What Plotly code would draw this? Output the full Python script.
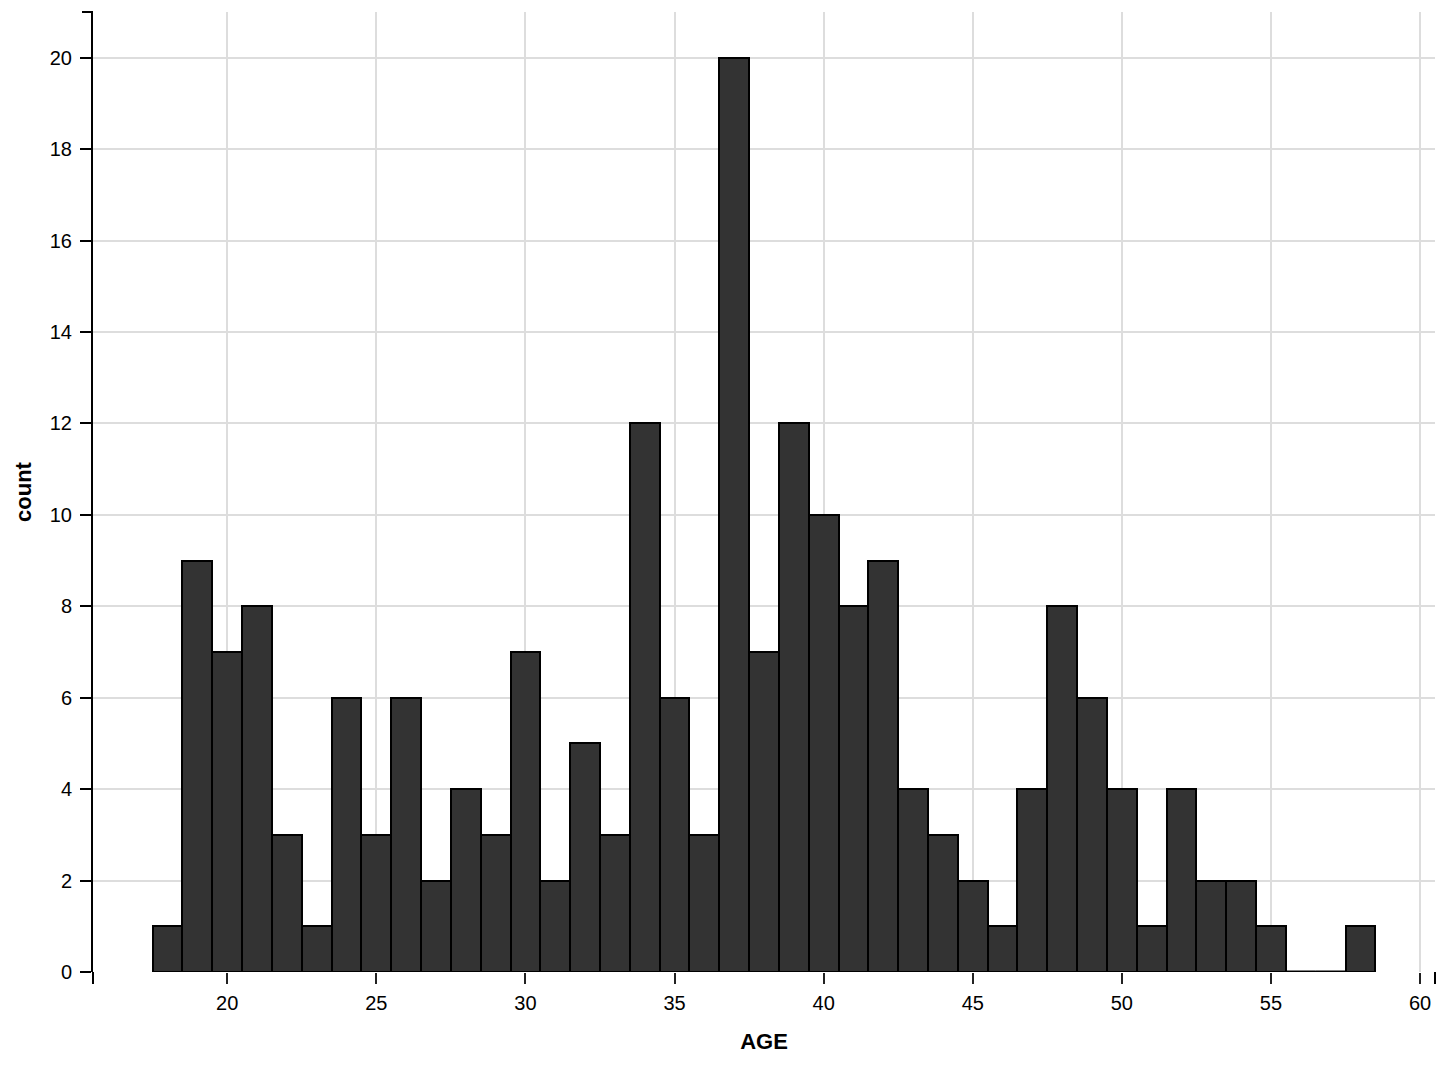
import plotly.graph_objects as go

# Histogram of AGE, one-year bins centred on whole years
ages = list(range(18, 59))
counts = [1, 9, 7, 8, 3, 1, 6, 3, 6, 2,
          4, 3, 7, 2, 5, 3, 12, 6, 3, 20,
          7, 12, 10, 8, 9, 4, 3, 2, 1, 4,
          8, 6, 4, 1, 4, 2, 2, 1, 0, 0,
          1]
x_ticks = [20, 25, 30, 35, 40, 45, 50, 55, 60]
y_ticks = [0, 2, 4, 6, 8, 10, 12, 14, 16, 18, 20]

FONT = "Liberation Sans, Helvetica, Arial, sans-serif"

fig = go.Figure()

fig.add_trace(go.Bar(
    x=ages,
    y=counts,
    width=1,
    marker=dict(color="#333333", line=dict(color="#000000", width=2)),
    showlegend=False,
))

# empty bins still show their outline along the baseline
for a, c in zip(ages, counts):
    if c == 0:
        fig.add_trace(go.Scatter(
            x=[a - 0.5, a + 0.5], y=[0, 0], mode="lines",
            line=dict(color="#000000", width=3),
            showlegend=False, hoverinfo="skip",
        ))

# page body adds an 8px margin, so the figure is a bit smaller than the window
fig.update_layout(
    width=1440,
    height=1060,
    plot_bgcolor="white",
    paper_bgcolor="white",
    margin=dict(l=85, r=13, t=4, b=96),
    font=dict(family=FONT, size=20, color="#000000"),
    bargap=0,
    xaxis=dict(
        range=[15.5, 60.5],
        tickvals=x_ticks,
        ticks="outside",
        ticklen=11,
        tickcolor="#222222",
        tickwidth=1.5,
        ticklabelstandoff=2,
        showgrid=True,
        gridcolor="#dddddd",
        gridwidth=1.5,
        zeroline=False,
        showline=False,
        title=dict(text="<b>AGE</b>", font=dict(size=22), standoff=20),
    ),
    yaxis=dict(
        range=[0, 21],
        tickvals=y_ticks,
        ticks="outside",
        ticklen=11,
        tickcolor="#000000",
        tickwidth=2,
        ticklabelstandoff=4,
        showgrid=True,
        gridcolor="#dddddd",
        gridwidth=1.5,
        zeroline=False,
        showline=True,
        linecolor="#000000",
        linewidth=2,
        title=dict(text="<b>count</b>", font=dict(size=22), standoff=12),
    ),
    shapes=[
        # axis end caps
        dict(type="line", xref="paper", yref="paper", x0=0, x1=0, y0=0, y1=-0.0125,
             line=dict(color="#000000", width=2)),
        dict(type="line", xref="paper", yref="paper", x0=1, x1=1, y0=0, y1=-0.0125,
             line=dict(color="#000000", width=2)),
        dict(type="line", xref="paper", yref="paper", x0=-0.0082, x1=0, y0=1, y1=1,
             line=dict(color="#000000", width=2)),
    ],
)

fig.write_html("out.html")
